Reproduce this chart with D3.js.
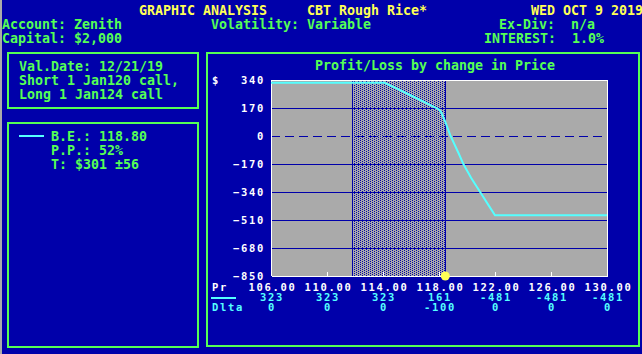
<!DOCTYPE html>
<html lang="en">
<head>
<meta charset="utf-8">
<title>Graphic Analysis - CBT Rough Rice</title>
<script src="https://cdn.jsdelivr.net/npm/d3@7"></script>
<style>
  body { margin: 0; background: #0000aa; }
  svg { display: block; }
  text { font-family: "DejaVu Sans Mono", "Liberation Mono", monospace; font-weight: bold; white-space: pre; }
  .big { font-size: 13.3px; }
  .small { font-size: 10.5px; letter-spacing: 1.7px; }
</style>
</head>
<body>
<script>
// chart data
var tickPrices = [106, 110, 114, 118, 122, 126, 130];
var tablePL = [323, 323, 323, 161, -481, -481, -481];
var tableDelta = [0, 0, 0, -100, 0, 0, 0];
var yTicks = [340, 170, 0, -170, -340, -510, -680, -850];

// profit/loss curve (price, value)
var curvePrice = [106, 114.1, 115, 116, 117, 118, 118.15, 118.45, 118.8, 119.4, 119.75, 120.3, 120.95, 121.5, 122, 130];
var curvePL = [323, 323, 288, 246, 204, 161, 145, 86, 5, -105, -172, -255, -342, -415, -481, -481];

var band = [111.85, 118.45];   // shaded price range
var currentPrice = 118.45;

var headerRow1 = [["GRAPHIC ANALYSIS", 139], ["CBT Rough Rice*", 307], ["WED OCT 9 2019", 531]];
var headerRow2 = [["Account: Zenith", 2], ["Volatility: Variable", 211], ["Ex-Div:  n/a", 499]];
var headerRow3 = [["Capital: $2,000", 2], ["INTEREST:  1.0%", 484]];
var positionLines = ["Val.Date: 12/21/19", "Short 1 Jan120 call,", "Long 1 Jan124 call"];
var statLines = ["B.E.: 118.80", "P.P.: 52%", "T: $301 \u00b156"];

var W = 642, H = 354;
var BLUE = "#0000aa", GREEN = "#55ff55", CYAN = "#55ffff", GRAY = "#aaaaaa", YELLOW = "#ffff55";

var svg = d3.select("body").append("svg").attr("width", W).attr("height", H);
svg.append("rect").attr("width", W).attr("height", H).attr("fill", BLUE);
svg.append("rect").attr("x", 0).attr("y", 0).attr("width", 2).attr("height", H).attr("fill", GRAY);

var defs = svg.append("defs");
var pat = defs.append("pattern").attr("id", "dots").attr("width", 4).attr("height", 2)
  .attr("patternUnits", "userSpaceOnUse");
pat.append("rect").attr("width", 4).attr("height", 2).attr("fill", GRAY);
pat.append("rect").attr("x", 0).attr("y", 0).attr("width", 1).attr("height", 1).attr("fill", BLUE);
pat.append("rect").attr("x", 2).attr("y", 1).attr("width", 1).attr("height", 1).attr("fill", BLUE);

// header
function row(items, y, color) {
  items.forEach(function(d) {
    svg.append("text").attr("class", "big").attr("x", d[1]).attr("y", y)
      .attr("fill", color).text(d[0]);
  });
}
row(headerRow1, 15, YELLOW);
row(headerRow2, 29, GREEN);
row(headerRow3, 43, GREEN);

// panels
function panel(x, y, w, h) {
  svg.append("rect").attr("x", x).attr("y", y).attr("width", w).attr("height", h)
    .attr("fill", "none").attr("stroke", GREEN).attr("stroke-width", 2)
    .attr("shape-rendering", "crispEdges");
}
panel(8, 53, 190, 55);
panel(8, 123, 190, 224);
panel(207, 53, 432, 293);

positionLines.forEach(function(t, i) {
  svg.append("text").attr("class", "big").attr("x", 19).attr("y", 71 + i * 14).attr("fill", GREEN).text(t);
});
svg.append("line").attr("x1", 19).attr("x2", 44).attr("y1", 136).attr("y2", 136)
  .attr("stroke", CYAN).attr("stroke-width", 2);
statLines.forEach(function(t, i) {
  svg.append("text").attr("class", "big").attr("x", 51).attr("y", 141 + i * 14).attr("fill", GREEN).text(t);
});

// chart
svg.append("text").attr("class", "big").attr("x", 435).attr("y", 70).attr("text-anchor", "middle")
  .attr("fill", GREEN).text("Profit/Loss by change in Price");

var x = d3.scaleLinear().domain([106, 130]).range([271, 607]);
var y = d3.scaleLinear().domain([-850, 340]).range([276, 80]);

var plot = svg.append("g").attr("shape-rendering", "crispEdges");
plot.append("rect").attr("x", x(106)).attr("y", y(340)).attr("width", x(130) - x(106))
  .attr("height", y(-850) - y(340)).attr("fill", GRAY);
plot.append("rect").attr("x", x(band[0])).attr("y", y(340)).attr("width", x(band[1]) - x(band[0]))
  .attr("height", y(-850) - y(340)).attr("fill", "url(#dots)");
band.forEach(function(b) {
  plot.append("line").attr("x1", x(b)).attr("x2", x(b)).attr("y1", y(340)).attr("y2", y(-850))
    .attr("stroke", BLUE);
});
plot.selectAll(".grid").data(yTicks.filter(function(v) { return v !== 0 && v !== 340 && v !== -850; }))
  .enter().append("line").attr("class", "grid")
  .attr("x1", x(106)).attr("x2", x(130)).attr("y1", function(d) { return y(d); }).attr("y2", function(d) { return y(d); })
  .attr("stroke", BLUE);
plot.append("line").attr("x1", x(106)).attr("x2", x(130)).attr("y1", y(0)).attr("y2", y(0))
  .attr("stroke", BLUE).attr("stroke-dasharray", "9,5");

// plot border (top, left, right)
plot.append("path")
  .attr("d", "M" + x(106) + "," + y(-850) + "V" + y(340) + "H" + x(130) + "V" + y(-850))
  .attr("fill", "none").attr("stroke", "#ffffff");

var pts = curvePrice.map(function(p, i) { return [p, curvePL[i]]; });
svg.append("path").datum(pts)
  .attr("d", d3.line().x(function(d) { return x(d[0]); }).y(function(d) { return y(d[1]); }))
  .attr("fill", "none").attr("stroke", CYAN).attr("stroke-width", 2);

// y axis
var yAxis = svg.append("g").attr("transform", "translate(" + x(106) + ",0)")
  .call(d3.axisLeft(y).tickValues(yTicks).tickSize(0).tickPadding(8));
yAxis.select(".domain").remove();
yAxis.selectAll("text").attr("class", "small").attr("fill", "#ffffff").attr("font-family", null)
  .attr("font-size", null).attr("dy", "0.36em").attr("dx", 2);
svg.append("text").attr("class", "small").attr("x", 212).attr("y", y(340) + 3.8).attr("fill", "#ffffff").text("$");

// x axis
var xAxis = svg.append("g").attr("transform", "translate(0," + y(-850) + ")")
  .call(d3.axisBottom(x).tickValues(tickPrices).tickSizeInner(-4).tickSizeOuter(0)
    .tickPadding(8).tickFormat(d3.format(".2f")));
xAxis.select(".domain").attr("stroke", "#ffffff");
xAxis.selectAll(".tick line").attr("stroke", "#ffffff");
xAxis.selectAll("text").attr("class", "small").attr("fill", "#ffffff").attr("font-family", null)
  .attr("font-size", null).attr("dy", null).attr("y", 15).attr("dx", 1);
xAxis.attr("shape-rendering", "crispEdges");

svg.append("text").attr("class", "small").attr("x", 212).attr("y", 291).attr("fill", "#ffffff").text("Pr");
svg.append("line").attr("x1", 211).attr("x2", 236).attr("y1", 298).attr("y2", 298)
  .attr("stroke", CYAN).attr("stroke-width", 2);
svg.append("text").attr("class", "small").attr("x", 212).attr("y", 311).attr("fill", CYAN).text("Dlta");

svg.selectAll(".pl").data(tablePL).enter().append("text").attr("class", "small")
  .attr("x", function(d, i) { return x(tickPrices[i]) + 1; }).attr("y", 301)
  .attr("text-anchor", "middle").attr("fill", CYAN).text(function(d) { return d; });
svg.selectAll(".dl").data(tableDelta).enter().append("text").attr("class", "small")
  .attr("x", function(d, i) { return x(tickPrices[i]) + 1; }).attr("y", 311)
  .attr("text-anchor", "middle").attr("fill", CYAN).text(function(d) { return d; });

// current price marker
svg.append("circle").attr("cx", x(currentPrice)).attr("cy", y(-850)).attr("r", 4.5).attr("fill", YELLOW);
</script>
</body>
</html>
